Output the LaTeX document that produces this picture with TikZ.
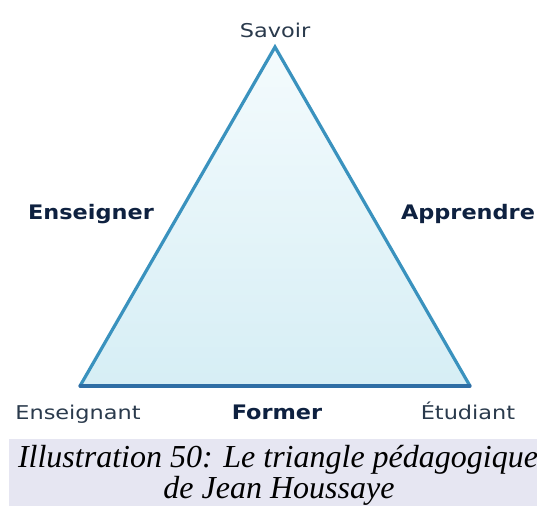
\documentclass[tikz,border=0pt]{standalone}
\usepackage{fontspec}
\setmainfont{Liberation Serif}
\newfontfamily\labfont[FakeStretch=1.18]{DejaVu Sans}
\newfontfamily\labbold[FakeStretch=1.12]{DejaVu Sans Bold}
\definecolor{edge}{HTML}{3A92BE}
\definecolor{edgedark}{HTML}{2F6EA5}
\definecolor{filltop}{HTML}{F4FBFD}
\definecolor{fillbot}{HTML}{D6EEF5}
\definecolor{capbg}{HTML}{E6E6F2}
\definecolor{labreg}{HTML}{2A3A4C}
\definecolor{labstrong}{HTML}{0E2140}
\tikzset{
  lreg/.style={font=\labfont\fontsize{19}{22}\selectfont, text=labreg, inner sep=0pt, anchor=base},
  lbold/.style={font=\labbold\fontsize{20}{24}\selectfont, text=labstrong, inner sep=0pt, anchor=base},
  capt/.style={font=\itshape\fontsize{32}{36}\selectfont, text=black, inner sep=0pt, anchor=base},
}
\begin{document}
\begin{tikzpicture}[x=1pt,y=1pt]
\useasboundingbox (0,0) rectangle (537,-506);
% vertices
\coordinate (top) at (275,-47);
\coordinate (bl) at (80,-386);
\coordinate (br) at (470,-386);
% triangle
\shade[top color=filltop, bottom color=fillbot] (top) -- (bl) -- (br) -- cycle;
\draw[edge, line width=3.2pt, line join=miter] (bl) -- (top) -- (br);
\draw[edgedark, line width=3.2pt, line cap=round] (bl) -- (br);
% labels
\node[lreg] (savoir) at (275,-37) {Savoir};
\node[lbold] (ens) at (91,-219) {Enseigner};
\node[lbold] (app) at (468,-219) {Apprendre};
\node[lreg] (prof) at (78,-419) {Enseignant};
\node[lbold] (form) at (277,-419) {Former};
\node[lreg] (etu) at (468,-419) {Étudiant};
% caption
\fill[capbg] (9,-439) rectangle (537,-506);
\node[capt] (cap1) at (278,-467) {Illustration 50: Le triangle pédagogique};
\node[capt] (cap2) at (279,-498) {de Jean Houssaye};
\end{tikzpicture}
\end{document}
